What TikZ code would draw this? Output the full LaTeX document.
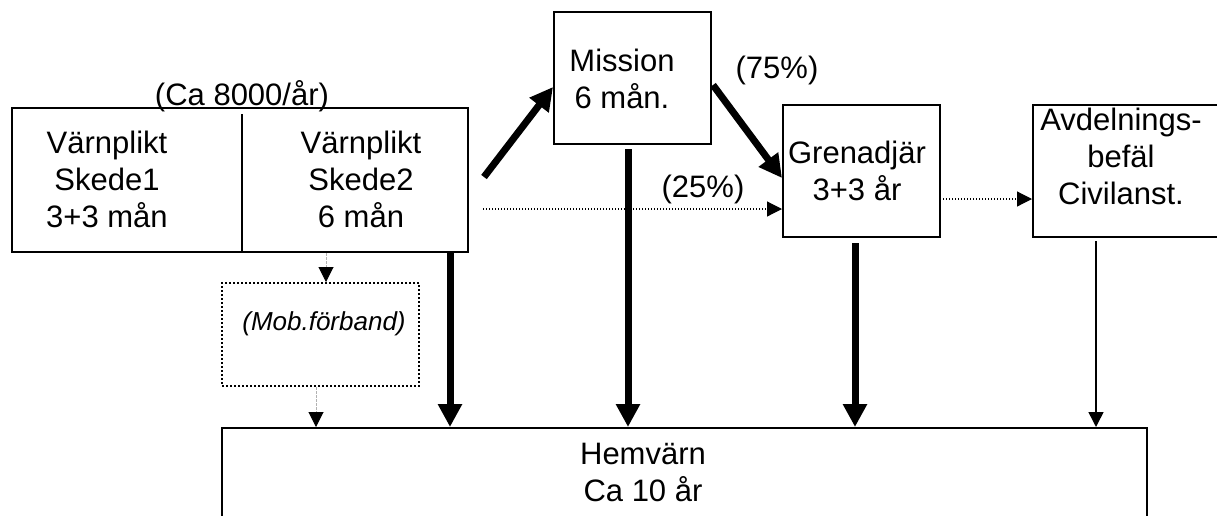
\documentclass[tikz,border=0pt]{standalone}
\usepackage{fontspec}
\setmainfont{Liberation Sans}
\usetikzlibrary{arrows.meta,calc}
\begin{document}
\begin{tikzpicture}[x=0.5pt,y=-0.5pt,
  box/.style={draw, line width=1pt, inner sep=0pt},
  mobbox/.style={draw, line width=1pt, dash pattern=on 1pt off 1pt, inner sep=0pt},
  lbl/.style={inner sep=0pt, align=center, font=\fontsize{15.5}{18.5}\selectfont},
  moblbl/.style={inner sep=0pt, font=\fontsize{13}{15}\selectfont\itshape},
  heavy/.style={line width=3.5pt, -{Triangle[length=11.5pt,width=11.5pt]}},
  thin/.style={line width=0.75pt, -{Triangle[length=7.5pt,width=7.5pt]}},
  dotarrow/.style={line width=0.6pt, dash pattern=on 0.6pt off 0.9pt, -{Triangle[length=7.5pt,width=7.5pt]}},
  greyarrow/.style={line width=0.5pt, gray!60, dash pattern=on 1.5pt off 0.5pt, -{Triangle[length=7.5pt,width=7.5pt,black]}}
]
\useasboundingbox (0,0) rectangle (1217,515);

% boxes
\node[box, minimum width=228pt, minimum height=72pt] (big) at (240,180) {};
\node[box, minimum width=78.5pt, minimum height=66pt] (mission) at (632.5,78) {};
\node[box, minimum width=78.5pt, minimum height=66pt] (gren) at (861.5,171) {};
\node[box, minimum width=100pt, minimum height=66pt] (avd) at (1133,171) {};
\node[mobbox, minimum width=98.5pt, minimum height=51.5pt] (mob) at (320.5,334.5) {};
\node[box, minimum width=462.5pt, minimum height=66pt] (hem) at (684.5,494) {};

% divider between the two conscription stages
\draw[line width=0.75pt] ($(big.north west)+(231,7)$) coordinate (divtop) -- (divtop |- big.south);

% texts
\node[lbl] (ca) at (242,96) {(Ca 8000/år)};
\node[lbl] (s1) at (107,179) {Värnplikt\\Skede1\\3+3 mån};
\node[lbl] (s2) at (361,179) {Värnplikt\\Skede2\\6 mån};
\node[lbl] (missiontxt) at (622,78.5) {Mission\\6 mån.};
\node[lbl] (grentxt) at (857,170.5) {Grenadjär\\3+3 år};
\node[lbl] (avdtxt) at (1121,156.5) {Avdelnings-\\befäl\\Civilanst.};
\node[lbl] (hemtxt) at (643,472) {Hemvärn\\Ca 10 år};
\node[lbl] (p75) at (777,70) {(75\%)};
\node[lbl] (p25) at (703,189) {(25\%)};
\node[moblbl] (mobtxt) at (324,324) {(Mob.förband)};

% x positions of the vertical connectors
\coordinate (x316) at (316,0);
\coordinate (x326) at (326,0);
\coordinate (x450) at (450,0);
\coordinate (x628) at (628,0);
\coordinate (x855) at (855,0);
\coordinate (x1096) at (1096,0);

% connectors
\coordinate (s2out) at ($(big.east)+(15,-3)$);
\draw[heavy] (s2out) -- ($(mission.west)+(0,9)$);
\draw[heavy] ($(mission.east)+(1,7)$) -- ($(gren.west)+(0,7)$);
\draw[dotarrow] ($(big.east)+(14,29)$) -- ($(gren.west)+(0,38)$);
\draw[dotarrow] ($(gren.east)+(2,28)$) -- ($(avd.west)+(0,28)$);

\draw[greyarrow] (big.south -| x326) -- (mob.north -| x326);
\draw[greyarrow] (mob.south -| x316) -- (hem.north -| x316);

\draw[heavy] (big.south -| x450) -- (hem.north -| x450);
\draw[heavy] ($(mission.south -| x628)+(0,4)$) -- (hem.north -| x628);
\draw[heavy] ($(gren.south -| x855)+(0,5)$) -- (hem.north -| x855);
\draw[thin] ($(avd.south -| x1096)+(0,3)$) -- (hem.north -| x1096);
\end{tikzpicture}
\end{document}
